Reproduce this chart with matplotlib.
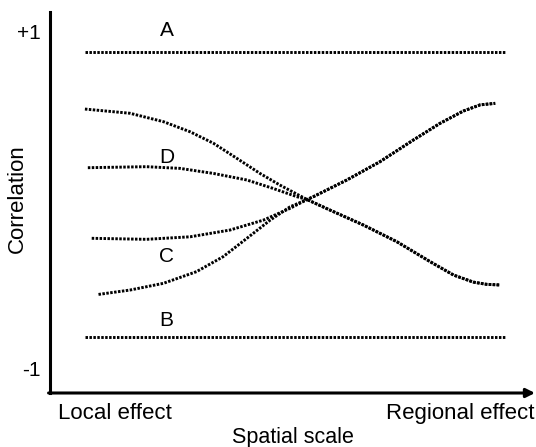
#!/usr/bin/env python3
"""
Conceptual sketch: correlation vs spatial scale for four scenarios (A-D).
"""

import matplotlib
matplotlib.use('Agg')
import matplotlib.pyplot as plt

plt.rcParams['font.family'] = ['Liberation Sans', 'DejaVu Sans']

# spatial scale runs 0 (local) .. 100 (regional), correlation -1 .. +1
line_a_x = [7.2, 94.0]
line_a_y = [0.875, 0.875]
line_b_x = [7.2, 94.0]
line_b_y = [-0.816, -0.816]

# curves; they all meet near (53.0, 0.0)
fall_right_x = [57.7, 64.6, 71.5, 78.4, 83.2, 87.3, 90.0, 92.8]
fall_right_y = [-0.062, -0.151, -0.250, -0.369, -0.448, -0.490, -0.503, -0.507]
rise_right_x = [54.3, 61.2, 68.0, 74.9, 80.4, 85.2, 88.7, 91.8]
rise_right_y = [0.017, 0.116, 0.224, 0.353, 0.452, 0.525, 0.562, 0.571]

top_x = [7.2, 16.5, 23.4, 28.9, 33.7, 38.5, 43.3, 47.4, 53.0]
top_y = [0.537, 0.512, 0.462, 0.402, 0.334, 0.245, 0.155, 0.086, 0.0]
d_x = [7.8, 19.9, 26.8, 33.7, 40.6, 46.0, 50.9, 53.0]
d_y = [0.189, 0.195, 0.185, 0.155, 0.116, 0.066, 0.017, 0.0]
c_x = [8.6, 19.9, 28.9, 37.1, 44.0, 49.5, 53.0]
c_y = [-0.230, -0.236, -0.221, -0.181, -0.122, -0.052, 0.0]
low_x = [10.0, 16.5, 23.4, 30.2, 35.7, 40.6, 45.4, 49.5, 53.0]
low_y = [-0.563, -0.537, -0.497, -0.428, -0.339, -0.230, -0.122, -0.043, 0.0]

labels = ['A', 'D', 'C', 'B']
label_x = [24.0, 24.0, 24.0, 24.0]
label_y = [1.006, 0.252, -0.335, -0.715]

xtick_pos = [13.4, 84.5]
xtick_labels = ['Local effect', 'Regional effect']
ytick_pos = [-1, 1]
ytick_labels = ['-1', '+1']


def main():
    fig = plt.figure(figsize=(5.36, 4.47), dpi=100)
    ax = fig.add_axes([50 / 536, 1 - 393 / 447, 485 / 536, 381 / 447])
    ax.set_xlim(0, 100)
    ax.set_ylim(-1.148, 1.113)

    dot = dict(color='black', lw=2.1, linestyle=(0, (0.85, 0.5)),
               dash_capstyle='butt', solid_joinstyle='round')

    ax.plot(line_a_x, line_a_y, **dot)
    ax.plot(line_b_x, line_b_y, **dot)
    ax.plot(top_x + fall_right_x, top_y + fall_right_y, **dot)
    ax.plot(d_x + fall_right_x, d_y + fall_right_y, **dot)
    ax.plot(c_x + rise_right_x, c_y + rise_right_y, **dot)
    ax.plot(low_x + rise_right_x, low_y + rise_right_y, **dot)

    for lab, x, y in zip(labels, label_x, label_y):
        ax.text(x, y, lab, fontsize=15, ha='center', va='center')

    # axes: plain left line, arrow along the bottom
    for side in ['top', 'right', 'bottom']:
        ax.spines[side].set_visible(False)
    ax.spines['left'].set_linewidth(2.2)
    ax.annotate('', xy=(1.0, 0), xytext=(-0.003, 0), xycoords='axes fraction',
                arrowprops=dict(arrowstyle='-|>', lw=2.2, color='black',
                                mutation_scale=13, shrinkA=0, shrinkB=0))

    ax.set_xticks(xtick_pos, xtick_labels)
    ax.set_yticks(ytick_pos, ytick_labels)
    ax.tick_params(axis='x', length=0, pad=7.5, labelsize=16)
    ax.tick_params(axis='y', length=0, pad=6.5, labelsize=15)

    fig.text(0.5 * (50 + 535) / 536, 1 - 443 / 447, 'Spatial scale',
             fontsize=15.5, ha='center', va='baseline')
    fig.text(17 / 536, 1 - 199 / 447, 'Correlation', rotation=90,
             fontsize=16, ha='center', va='center')

    fig.savefig('out.png', dpi=100)
    plt.close(fig)


if __name__ == "__main__":
    main()
